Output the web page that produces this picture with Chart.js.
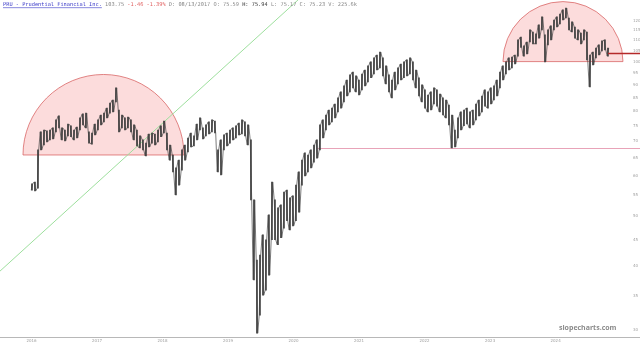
<!DOCTYPE html>
<html>
<head>
<meta charset="utf-8">
<script src="https://cdn.jsdelivr.net/npm/chart.js@4.4.1/dist/chart.umd.min.js"></script>
<style>
html, body { margin: 0; padding: 0; background: #fff; }
#wrap { width: 640px; height: 345px; }
</style>
</head>
<body>
<div id="wrap"><canvas id="chart" width="640" height="345"></canvas></div>
<script>
// PRU (adjusted) - one sample about every 17 days, high / low of the period
const firstSample = 2016.786
const sampleStep = 0.0458

const highs = [
	57.8, 58.3, 67.3, 73.0, 73.6, 73.3, 73.6, 74.3, 77.0, 78.4,
	74.3, 73.6, 75.6, 75.0, 73.6, 74.6, 77.7, 79.1, 79.4, 73.0,
	72.6, 75.6, 77.0, 78.7, 79.4, 81.2, 83.0, 84.2, 88.9, 80.5,
	78.7, 77.7, 78.0, 77.0, 75.3, 73.6, 71.7, 70.4, 69.4, 72.3,
	72.6, 72.3, 73.6, 75.0, 76.6, 72.6, 68.8, 65.8, 62.1, 64.3,
	67.3, 68.8, 71.0, 72.6, 71.7, 75.6, 77.7, 74.3, 75.3, 76.3,
	77.0, 76.6, 67.3, 70.4, 72.0, 72.6, 73.6, 74.3, 75.0, 75.9,
	77.0, 76.3, 75.3, 70.4, 53.8, 41.1, 42.0, 46.0, 45.0, 50.3,
	58.3, 53.8, 51.9, 52.6, 55.7, 56.2, 54.3, 54.8, 57.5, 61.0,
	64.3, 66.4, 65.8, 67.3, 68.8, 70.4, 75.3, 77.0, 78.7, 80.5,
	81.2, 82.7, 85.0, 87.3, 89.7, 92.1, 94.2, 95.4, 93.8, 92.1,
	94.6, 96.3, 98.1, 99.9, 101.7, 103.0, 104.4, 101.7, 98.1, 94.2,
	92.1, 95.4, 97.2, 98.9, 99.9, 100.8, 101.7, 99.9, 96.3, 93.0,
	90.1, 88.1, 86.1, 87.3, 88.9, 88.1, 86.5, 85.0, 84.2, 82.3,
	78.7, 73.6, 77.7, 79.8, 80.5, 81.2, 79.8, 80.5, 82.7, 84.2,
	85.7, 88.1, 87.3, 88.9, 89.7, 92.1, 95.4, 98.1, 99.9, 101.7,
	102.1, 103.0, 110.2, 111.6, 107.3, 109.2, 115.3, 114.2, 113.2, 117.9,
	122.2, 112.7, 115.3, 117.4, 120.5, 122.2, 123.8, 126.1, 127.1, 121.6,
	119.5, 116.8, 115.3, 113.7, 115.3, 114.2, 103.0, 104.4, 106.3, 107.8,
	109.7, 110.2, 106.3
]
const lows = [
	56.2, 56.0, 56.7, 67.3, 68.8, 69.8, 70.4, 70.7, 73.0, 74.3,
	70.4, 70.1, 71.7, 71.4, 70.4, 71.0, 73.6, 75.3, 74.3, 69.4,
	69.1, 72.0, 73.6, 75.3, 76.3, 77.7, 79.4, 79.8, 83.5, 73.0,
	74.3, 73.6, 74.3, 73.0, 70.4, 68.5, 67.9, 67.3, 65.5, 68.2,
	69.4, 68.8, 69.8, 71.4, 72.6, 67.3, 64.3, 61.0, 55.0, 57.5,
	61.5, 64.3, 66.7, 68.2, 68.5, 70.4, 73.6, 70.7, 71.7, 72.3,
	73.0, 72.6, 61.0, 60.2, 67.3, 68.5, 69.4, 70.4, 71.0, 72.0,
	72.3, 71.7, 68.8, 53.8, 37.6, 29.6, 32.1, 35.1, 35.9, 38.4,
	45.0, 45.0, 44.0, 45.4, 47.4, 49.0, 47.0, 47.9, 49.0, 50.9,
	57.5, 59.9, 61.0, 62.1, 63.7, 64.9, 67.3, 71.0, 73.6, 75.3,
	76.3, 77.7, 79.8, 81.2, 83.5, 85.7, 87.3, 88.9, 87.3, 86.1,
	88.1, 89.7, 91.3, 93.0, 94.6, 96.3, 97.2, 93.8, 90.5, 87.3,
	85.0, 88.1, 90.5, 92.1, 93.0, 93.8, 94.6, 92.1, 88.9, 85.7,
	83.5, 81.2, 79.8, 80.5, 82.7, 81.9, 79.8, 78.7, 77.7, 75.3,
	67.9, 68.2, 71.0, 73.6, 75.0, 75.6, 74.3, 75.3, 77.0, 78.4,
	79.8, 81.9, 81.2, 82.7, 84.2, 85.7, 88.9, 92.1, 94.6, 96.3,
	97.2, 99.0, 102.5, 106.6, 102.5, 103.5, 109.2, 108.3, 108.3, 111.1,
	115.3, 99.9, 107.8, 110.2, 115.3, 116.8, 118.4, 120.5, 121.6, 115.3,
	114.2, 111.1, 110.2, 108.3, 110.2, 100.8, 89.3, 98.5, 101.7, 103.0,
	104.9, 105.4, 102.5
]
const lastPrice = 103.75

const yTicks = [120, 115, 110, 105, 100, 95, 90, 85, 80, 75, 70, 65, 60, 55, 50, 45, 40, 35, 30]
const xTickValues = [2016.78, 2017.78, 2018.78, 2019.78, 2020.78, 2021.78, 2022.78, 2023.78, 2024.78]
const xTickLabels = ['2016', '2017', '2018', '2019', '2020', '2021', '2022', '2023', '2024']

// drawn objects: saucers, trendline, level line
const saucers = [
	{ from: 2016.649, to: 2019.107, base: 65.8 },
	{ from: 2023.977, to: 2025.809, base: 100 },
]
const trendline = { from: [2016.298, 39.1], to: [2020.847, 131.8] }
const levelLine = { from: 2021.15, price: 67.9 }

const dates = highs.map((h, i) => firstSample + i * sampleStep)
const bars = dates.map((t, i) => ({ x: t, y: [lows[i], highs[i]] }))
// zigzag through each period's range so the series reads like dense daily bars
const zigzag = []
dates.forEach((t, i) => {
	const up = i % 2 === 0
	zigzag.push({ x: t - sampleStep * 0.25, y: up ? lows[i] : highs[i] })
	zigzag.push({ x: t + sampleStep * 0.25, y: up ? highs[i] : lows[i] })
})

const overlays = {
	id: 'overlays',
	beforeDatasetsDraw(chart) {
		const { ctx, scales } = chart
		const x = scales.x
		const y = scales.y
		ctx.save()
		saucers.forEach(s => {
			const x1 = x.getPixelForValue(s.from)
			const x2 = x.getPixelForValue(s.to)
			const by = y.getPixelForValue(s.base)
			const r = (x2 - x1) / 2
			ctx.beginPath()
			ctx.moveTo(x1, by)
			ctx.arc(x1 + r, by, r, Math.PI, 0)
			ctx.closePath()
			ctx.fillStyle = 'rgba(245, 130, 130, 0.28)'
			ctx.fill()
			ctx.strokeStyle = 'rgba(215, 95, 95, 0.75)'
			ctx.lineWidth = 1
			ctx.stroke()
		})

		// trendline
		ctx.beginPath()
		ctx.moveTo(x.getPixelForValue(trendline.from[0]), y.getPixelForValue(trendline.from[1]))
		ctx.lineTo(x.getPixelForValue(trendline.to[0]), y.getPixelForValue(trendline.to[1]))
		ctx.strokeStyle = '#9ddf9d'
		ctx.lineWidth = 1
		ctx.stroke()

		// horizontal level
		const ly = Math.round(y.getPixelForValue(levelLine.price)) + 0.5
		ctx.beginPath()
		ctx.moveTo(x.getPixelForValue(levelLine.from), ly)
		ctx.lineTo(chart.width, ly)
		ctx.strokeStyle = '#e8a3b8'
		ctx.stroke()
		ctx.restore()
	},
	afterDraw(chart) {
		const { ctx, scales, chartArea } = chart
		const x = scales.x
		const y = scales.y
		ctx.save()
		// last price line
		const py = y.getPixelForValue(lastPrice)
		ctx.beginPath()
		ctx.moveTo(x.getPixelForValue(dates[dates.length - 1]), py)
		ctx.lineTo(chart.width, py)
		ctx.strokeStyle = '#b52a2a'
		ctx.lineWidth = 1.5
		ctx.stroke()

		// bottom axis line
		ctx.beginPath()
		ctx.moveTo(0, chartArea.bottom + 0.5)
		ctx.lineTo(chart.width, chartArea.bottom + 0.5)
		ctx.strokeStyle = '#b8b8b8'
		ctx.lineWidth = 1.2
		ctx.stroke()

		// header text
		ctx.font = '5.3px "DejaVu Sans Mono"'
		ctx.textBaseline = 'middle'
		let tx = 3
		const parts = [
			['PRU - Prudential Financial Inc.', '#3a3ac8', true],
			[' 103.75 ', '#888', false],
			['-1.46 -1.39%', '#e06060', false],
			[' D: 08/13/2017 O: 75.59 ', '#888', false],
			['H: 75.94', '#333', false],
			[' L: 75.17 C: 75.23 V: 225.6k', '#888', false],
		]
		parts.forEach(([text, color, underline]) => {
			ctx.fillStyle = color
			ctx.fillText(text, tx, 5)
			const w = ctx.measureText(text).width
			if (underline) {
				ctx.fillRect(tx, 7.5, w, 0.6)
			}
			tx += w
		})

		// watermark
		ctx.font = 'bold 7px "Open Sans"'
		ctx.fillStyle = '#8a8a8a'
		ctx.textBaseline = 'alphabetic'
		ctx.fillText('slopecharts.com', 559, 330)
		ctx.restore()
	},
}

const ctx = document.getElementById('chart').getContext('2d')
new Chart(ctx, {
	type: 'bar',
	data: {
		datasets: [
			{
				type: 'line',
				data: zigzag,
				borderColor: '#404040',
				borderWidth: 0.7,
				pointRadius: 0,
				tension: 0,
			},
			{
				data: bars,
				backgroundColor: '#404040',
				borderWidth: 0,
				barThickness: 1,
			},
		],
	},
	options: {
		responsive: false,
		animation: false,
		layout: { padding: 0 },
		plugins: {
			legend: { display: false },
			tooltip: { enabled: false },
		},
		scales: {
			x: {
				type: 'linear',
				offset: false,
				min: 2016.298,
				max: 2025.794,
				grid: { display: false, drawTicks: false, offset: false },
				border: { display: false },
				afterBuildTicks: scale => {
					scale.ticks = xTickValues.map(v => ({ value: v }))
				},
				afterFit: scale => {
					scale.height = 8
					scale.paddingLeft = 0
					scale.paddingRight = 0
				},
				ticks: {
					autoSkip: false,
					maxRotation: 0,
					padding: 2,
					font: { size: 4, family: 'DejaVu Sans' },
					color: '#a0a0a0',
					callback: value => {
						const i = xTickValues.indexOf(value)
						return i >= 0 ? xTickLabels[i] : ''
					},
				},
			},
			y: {
				type: 'logarithmic',
				position: 'right',
				min: 29.1,
				max: 131.8,
				grid: { display: false, drawTicks: false },
				border: { display: false },
				afterBuildTicks: scale => {
					scale.ticks = yTicks.map(v => ({ value: v }))
				},
				afterFit: scale => {
					scale.width = 18
					scale.paddingTop = 0
					scale.paddingBottom = 0
				},
				ticks: {
					autoSkip: false,
					padding: 11,
					font: { size: 4, family: 'DejaVu Sans' },
					color: '#a0a0a0',
					callback: value => String(value),
				},
			},
		},
	},
	plugins: [overlays],
})
</script>
</body>
</html>
